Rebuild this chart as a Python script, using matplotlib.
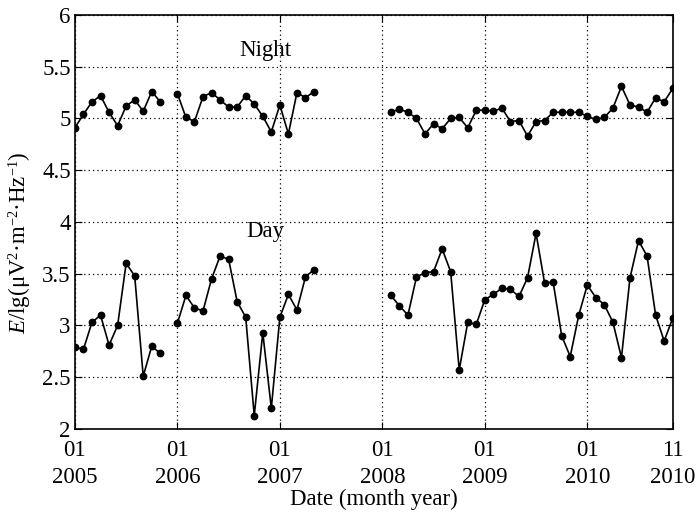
import numpy as np
import matplotlib
matplotlib.use("Agg")
import matplotlib.pyplot as plt
try:
    import matplotlib._mathtext as _mt
    _mt.SHRINK_FACTOR = 0.62
except Exception:
    pass

plt.rcParams['font.family'] = ['Liberation Serif', 'DejaVu Serif']
plt.rcParams['mathtext.fontset'] = 'custom'
plt.rcParams['mathtext.rm'] = 'Liberation Serif'
plt.rcParams['mathtext.it'] = 'Liberation Serif:italic'

# month index 0 = Jan 2005 ... 70 = Nov 2010
seg_start = [0, 12, 37]   # Jan 2005, Jan 2006, Feb 2008

night_seg1 = [4.91, 5.04, 5.16, 5.22, 5.06, 4.93, 5.12, 5.18, 5.07, 5.26, 5.16]
night_seg2 = [5.24, 5.01, 4.97, 5.21, 5.25, 5.18, 5.11, 5.11, 5.22, 5.14, 5.02, 4.87,
              5.13, 4.85, 5.25, 5.20, 5.26]
night_seg3 = [5.06, 5.09, 5.06, 5.00, 4.85, 4.95, 4.90, 5.00, 5.01, 4.91, 5.08, 5.08,
              5.07, 5.10, 4.97, 4.98, 4.83, 4.97, 4.98, 5.06, 5.06, 5.06, 5.06, 5.02,
              4.99, 5.01, 5.10, 5.31, 5.13, 5.11, 5.06, 5.20, 5.16, 5.29]

day_seg1 = [2.79, 2.77, 3.03, 3.10, 2.81, 3.00, 3.60, 3.48, 2.51, 2.80, 2.73]
day_seg2 = [3.02, 3.29, 3.17, 3.14, 3.45, 3.67, 3.64, 3.23, 3.08, 2.13, 2.93, 2.20,
            3.08, 3.30, 3.15, 3.47, 3.54]
day_seg3 = [3.29, 3.19, 3.10, 3.47, 3.51, 3.52, 3.74, 3.52, 2.57, 3.03, 3.01, 3.25,
            3.30, 3.36, 3.35, 3.28, 3.46, 3.89, 3.41, 3.42, 2.90, 2.70, 3.10, 3.39,
            3.27, 3.20, 3.03, 2.69, 3.46, 3.82, 3.67, 3.10, 2.85, 3.07]

tick_pos = [0, 12, 24, 36, 48, 60, 70]
tick_labels = ['01\n2005', '01\n2006', '01\n2007', '01\n2008', '01\n2009', '01\n2010', '11\n2010']
y_ticks = [2, 2.5, 3, 3.5, 4, 4.5, 5, 5.5, 6]

fig = plt.figure(figsize=(7, 5.15), dpi=100)
ax = fig.add_axes([0.107, 0.167, 0.854, 0.804])

fs = 16.5
for start, vals in zip(seg_start, [night_seg1, night_seg2, night_seg3]):
    x = np.arange(start, start + len(vals))
    ax.plot(x, vals, '-o', color='black', lw=1.2, ms=4.6)
for start, vals in zip(seg_start, [day_seg1, day_seg2, day_seg3]):
    x = np.arange(start, start + len(vals))
    ax.plot(x, vals, '-o', color='black', lw=1.2, ms=4.6)

ax.set_xlim(0, 70)
ax.set_ylim(2, 6)
ax.set_xticks(tick_pos)
ax.set_xticklabels(tick_labels, fontsize=fs, linespacing=1.35)
ax.set_yticks(y_ticks)
ax.set_yticklabels(['2', '2.5', '3', '3.5', '4', '4.5', '5', '5.5', '6'], fontsize=fs)
ax.tick_params(direction='in', top=True, right=True, length=5, width=0.8, pad=3)
ax.tick_params(axis='x', pad=8)
ax.grid(True, linestyle=(0, (1, 2.5)), color='black', lw=0.9)
for s in ax.spines.values():
    s.set_linewidth(1.2)

ax.text(22.3, 5.66, 'Night', fontsize=fs, ha='center', va='center')
ax.text(22.3, 3.91, 'Day', fontsize=fs, ha='center', va='center')

ax.set_xlabel('Date (month year)', fontsize=fs, labelpad=1)
ax.set_ylabel(r'$E$/lg(μV$^{2}$·m$^{-2}$·Hz$^{-1}$)', fontsize=fs, labelpad=2)
ax.yaxis.set_label_coords(-0.068, 0.45)

fig.savefig('out.png', dpi=100)
